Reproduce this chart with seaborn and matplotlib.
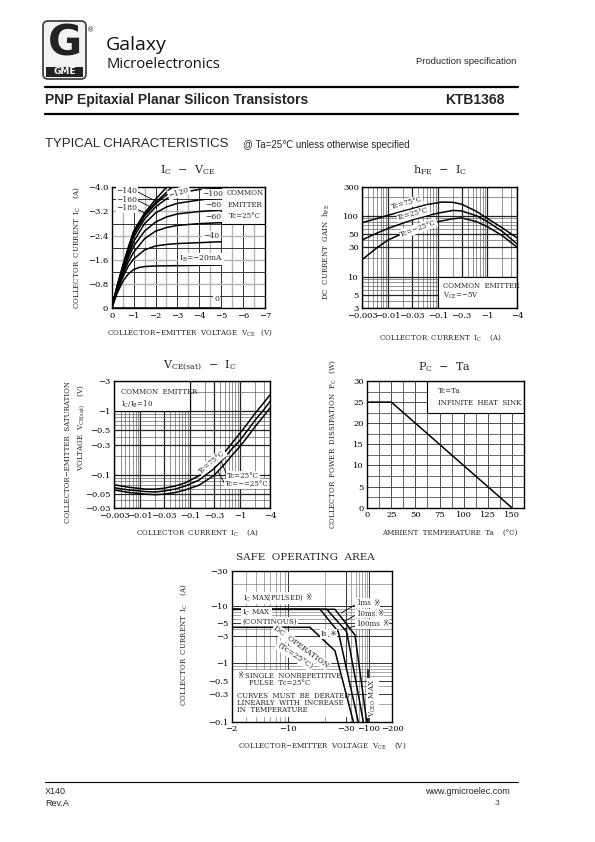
import numpy as np
import matplotlib
matplotlib.use("Agg")
import matplotlib.pyplot as plt
import seaborn as sns
from matplotlib.patches import Rectangle, FancyBboxPatch
from matplotlib.ticker import FixedLocator, NullFormatter, LogLocator

# ======================= DATA =======================
# --- I_C - V_CE  (magnitudes; drawn as negative values) ---
vce_ib0 = [0.0, 5.0]
ic_ib0 = [0.0, 0.0]
vce_ib20 = [0, 0.25, 0.5, 0.75, 1.0, 1.25, 1.5, 2.0, 3.0, 5.0]
ic_ib20 = [0, 0.50, 0.88, 1.13, 1.28, 1.35, 1.38, 1.40, 1.41, 1.43]
vce_ib40 = [0, 0.25, 0.5, 0.75, 1.0, 1.5, 2.0, 2.5, 3.0, 4.0, 5.0]
ic_ib40 = [0, 0.58, 1.02, 1.38, 1.63, 1.93, 2.06, 2.11, 2.14, 2.17, 2.20]
vce_ib60 = [0, 0.25, 0.5, 0.75, 1.0, 1.5, 2.0, 2.5, 3.0, 4.0, 5.0]
ic_ib60 = [0, 0.62, 1.12, 1.52, 1.85, 2.30, 2.55, 2.67, 2.74, 2.80, 2.83]
vce_ib80 = [0, 0.25, 0.5, 0.75, 1.0, 1.5, 2.0, 2.5, 3.0, 4.0, 5.0]
ic_ib80 = [0, 0.65, 1.20, 1.65, 2.05, 2.55, 2.85, 3.02, 3.12, 3.20, 3.25]
vce_ib100 = [0, 0.25, 0.5, 0.75, 1.0, 1.5, 2.0, 2.5, 3.0, 4.0, 5.0]
ic_ib100 = [0, 0.68, 1.25, 1.75, 2.20, 2.80, 3.15, 3.35, 3.47, 3.58, 3.64]
vce_ib120 = [0, 0.25, 0.5, 0.75, 1.0, 1.5, 2.0, 2.5, 3.0, 4.0, 5.0]
ic_ib120 = [0, 0.70, 1.30, 1.85, 2.35, 2.95, 3.35, 3.62, 3.80, 3.93, 3.97]
vce_ib140 = [0, 0.25, 0.5, 0.75, 1.0, 1.5, 2.0, 2.5, 3.2]
ic_ib140 = [0, 0.72, 1.35, 1.92, 2.45, 3.05, 3.45, 3.75, 4.0]
vce_ib160 = [0, 0.25, 0.5, 0.75, 1.0, 1.5, 2.0, 2.75]
ic_ib160 = [0, 0.73, 1.37, 1.95, 2.50, 3.10, 3.50, 4.0]
vce_ib180 = [0, 0.25, 0.5, 0.75, 1.0, 1.5, 2.0, 2.5]
ic_ib180 = [0, 0.75, 1.40, 2.00, 2.55, 3.15, 3.60, 4.0]
icv_xticks = [0, -1, -2, -3, -4, -5, -6, -7]
icv_xlabels = ["0", "−1", "−2", "−3", "−4", "−5", "−6", "−7"]
icv_yticks = [0, -0.8, -1.6, -2.4, -3.2, -4.0]
icv_ylabels = ["0", "−0.8", "−1.6", "−2.4", "−3.2", "−4.0"]

# --- h_FE - I_C ---
ic_h75 = [0.003, 0.006, 0.01, 0.03, 0.06, 0.12, 0.2, 0.3, 0.6, 1.0, 2.0, 4.0]
hfe_75 = [77, 90, 102, 130, 152, 168, 166, 155, 118, 90, 63, 43]
ic_h25 = [0.003, 0.006, 0.01, 0.03, 0.06, 0.1, 0.2, 0.3, 0.6, 1.0, 2.0, 4.0]
hfe_25 = [40, 52, 62, 85, 100, 110, 122, 120, 100, 80, 55, 34]
ic_hm25 = [0.003, 0.006, 0.01, 0.03, 0.06, 0.1, 0.2, 0.3, 0.6, 1.0, 2.0, 4.0]
hfe_m25 = [19, 30, 40, 60, 72, 80, 89, 92, 80, 66, 47, 30]
ic_log_ticks = [0.003, 0.01, 0.03, 0.1, 0.3, 1, 4]
ic_log_labels = ["−0.003", "−0.01", "−0.03", "−0.1", "−0.3", "−1", "−4"]
hfe_ticks = [3, 5, 10, 30, 50, 100, 300]
hfe_labels = ["3", "5", "10", "30", "50", "100", "300"]

# --- V_CE(sat) - I_C ---
ic_sat = [0.003, 0.006, 0.0124, 0.02, 0.03, 0.05, 0.079, 0.15, 0.3, 0.5, 0.7, 1.0, 1.5, 2.0, 3.0, 4.0]
vsat_75 = [0.070, 0.064, 0.060, 0.060, 0.062, 0.067, 0.075, 0.097, 0.15, 0.23, 0.32, 0.45, 0.68, 0.92, 1.35, 1.80]
vsat_25 = [0.063, 0.058, 0.055, 0.054, 0.056, 0.060, 0.067, 0.083, 0.125, 0.19, 0.26, 0.35, 0.53, 0.72, 1.05, 1.42]
vsat_m25 = [0.058, 0.053, 0.050, 0.049, 0.050, 0.053, 0.058, 0.069, 0.098, 0.15, 0.205, 0.28, 0.42, 0.57, 0.84, 1.12]
vsat_ticks = [0.03, 0.05, 0.1, 0.3, 0.5, 1, 3]
vsat_labels = ["−0.03", "−0.05", "−0.1", "−0.3", "−0.5", "−1", "−3"]

# --- P_C - Ta ---
ta_deg = [0, 25, 150]
pc_watt = [25, 25, 0]
ta_ticks = [0, 25, 50, 75, 100, 125, 150]
pc_ticks = [0, 5, 10, 15, 20, 25, 30]

# --- Safe operating area (magnitudes) ---
soa_v_dc = [2, 15.1, 24.3, 44.0]
soa_i_dc = [4.23, 4.23, 1.64, 0.1]
soa_v_100ms = [2, 18.3, 25.9, 57.0]
soa_i_100ms = [8.75, 8.75, 3.54, 0.1]
soa_v_10ms = [2, 20.8, 31.1, 74.2]
soa_i_10ms = [8.75, 8.75, 3.54, 0.1]
soa_v_1ms = [2, 24.3, 48.0, 88.7]
soa_i_1ms = [8.75, 8.75, 3.1, 0.1]
soa_v_vceo = [95, 95]
soa_i_vceo = [0.1, 0.75]
soa_xticks = [2, 10, 30, 100, 200]
soa_xlabels = ["−2", "−10", "−30", "−100", "−200"]
soa_yticks = [0.1, 0.3, 0.5, 1, 3, 5, 10, 30]
soa_ylabels = ["−0.1", "−0.3", "−0.5", "−1", "−3", "−5", "−10", "−30"]

# ======================= STYLE / LAYOUT =======================
SANS = ['Liberation Sans', 'DejaVu Sans', 'Noto Sans CJK JP']
SERIF = ['DejaVu Serif', 'DejaVu Sans', 'Noto Sans CJK JP']
SYM = ['DejaVu Sans', 'Noto Sans CJK JP']
LOGO = ['Open Sans', 'DejaVu Sans']

sns.set_theme(style='white')
plt.rcParams['font.family'] = SERIF
plt.rcParams['mathtext.fontset'] = 'dejavuserif'
plt.rcParams['axes.unicode_minus'] = True

W, H = 595, 842
fig = plt.figure(figsize=(W / 100, H / 100), dpi=100)
bg = fig.add_axes([0, 0, 1, 1])
bg.set_xlim(0, W)
bg.set_ylim(H, 0)
bg.axis('off')

LW = 1.1
ALS = 5.1  # axis-label font size
WB = dict(boxstyle='square,pad=0.12', fc='white', ec='none')


def add_ax(l, t, r, b):
    ax = fig.add_axes([l / W, 1 - b / H, (r - l) / W, (b - t) / H])
    ax.set_facecolor('white')
    for s in ax.spines.values():
        s.set_visible(True)
        s.set_color('black')
        s.set_linewidth(1.0)
    ax.tick_params(which='both', length=0, labelsize=6, pad=2.5, colors='black')
    ax.set_axisbelow(True)
    return ax


def ptxt(ax, x, y, s, **kw):
    kw.setdefault('fontsize', 5)
    kw.setdefault('va', 'center')
    kw.setdefault('zorder', 5)
    return ax.text(x, y, s, transform=bg.transData, **kw)


def mark_after(ax, t, sym='※', gap=1.0, size=5.5):
    """put a reference mark right after text artist t"""
    return ax.annotate(sym, xy=(1, 0.5), xycoords=t, xytext=(gap, 0), textcoords='offset points',
                       ha='left', va='center', fontsize=size, family=SYM, zorder=5,
                       bbox=dict(boxstyle='square,pad=0.05', fc='white', ec='none'))


def line(ax, xs, ys):
    sns.lineplot(x=np.asarray(xs, float), y=np.asarray(ys, float), ax=ax, color='black',
                 lw=LW, estimator=None, sort=False, legend=False, zorder=3)


def btxt(x, y, s, **kw):
    kw.setdefault('fontsize', ALS)
    kw.setdefault('va', 'center')
    return bg.text(x, y, s, **kw)


# ======================= HEADER =======================
bg.add_patch(FancyBboxPatch((43, 21), 43, 58, boxstyle='round,pad=0,rounding_size=5',
                            fc='#f2f2f2', ec='#444444', lw=1.3))
bg.text(64.5, 44, 'G', fontsize=30, fontweight='bold', family=SYM, ha='center', va='center', color='#222222')
bg.add_patch(Rectangle((46, 67), 37, 10, fc='#222222', ec='none'))
bg.text(64.5, 72, 'GME', fontsize=6.5, fontweight='bold', color='white', ha='center', va='center', family=SYM)
bg.text(91, 30, '®', fontsize=5, ha='center', va='center', family=SYM)
bg.text(106, 45, 'Galaxy', fontsize=14, family=LOGO, va='center', color='#111111')
bg.text(106, 64, 'Microelectronics', fontsize=10.6, family=LOGO, va='center', color='#111111')
bg.text(516, 61, 'Production specification', fontsize=6.8, family=SANS, ha='right', va='center')
bg.plot([45, 518], [87, 87], color='black', lw=1.6)
bg.text(45, 100, 'PNP Epitaxial Planar Silicon Transistors', fontsize=10, fontweight='bold',
        family=SANS, va='center')
bg.text(505, 100, 'KTB1368', fontsize=10, fontweight='bold', family=SANS, ha='right', va='center')
bg.plot([45, 518], [114, 114], color='black', lw=1.6)
bg.text(45, 144, 'TYPICAL CHARACTERISTICS', fontsize=9.5, family=SANS, va='center')
bg.text(243, 145, '@ Ta=25℃ unless otherwise specified', fontsize=7, family=SANS, va='center')

# ======================= FOOTER =======================
bg.plot([45, 518], [782, 782], color='black', lw=0.8)
bg.text(45, 792, 'X140', fontsize=6.5, family=SANS, va='center')
bg.text(45, 803, 'Rev.A', fontsize=6.5, family=SANS, va='center')
bg.text(510, 792, 'www.gmicroelec.com', fontsize=6.5, family=SANS, ha='right', va='center')
bg.text(497, 803, '3', fontsize=5.5, family=SERIF, ha='center', va='center')

# ======================= CHART 1 : IC - VCE =======================
ax1 = add_ax(111.7, 187.3, 265.0, 308.3)
icv_curves = [(vce_ib0, ic_ib0), (vce_ib20, ic_ib20), (vce_ib40, ic_ib40), (vce_ib60, ic_ib60),
              (vce_ib80, ic_ib80), (vce_ib100, ic_ib100), (vce_ib120, ic_ib120),
              (vce_ib140, ic_ib140), (vce_ib160, ic_ib160), (vce_ib180, ic_ib180)]
for v, i in icv_curves:
    line(ax1, -np.asarray(v, float), -np.asarray(i, float))
ax1.set_xlim(0, -7)
ax1.set_ylim(0, -4)
ax1.set_xticks(icv_xticks, labels=icv_xlabels)
ax1.set_yticks(icv_yticks, labels=icv_ylabels)
ax1.xaxis.set_minor_locator(FixedLocator(np.arange(-0.5, -7.0, -1.0)))
ax1.yaxis.set_minor_locator(FixedLocator(np.arange(-0.4, -4.0, -0.8)))
ax1.grid(True, which='major', axis='x', color='#333333', lw=0.7)
ax1.grid(True, which='minor', axis='x', color='#b5b5b5', lw=1.0)
ax1.grid(True, which='major', axis='y', color='#b5b5b5', lw=1.0)
ax1.grid(True, which='minor', axis='y', color='#333333', lw=0.7)
ax1.set_xlabel('')
ax1.set_ylabel('')
ax1.add_patch(Rectangle((-7, -4), 2, 1.2, fc='white', ec='black', lw=0.8, zorder=1.5))
ptxt(ax1, 245, 193.3, 'COMMON', ha='center')
ptxt(ax1, 245, 205, 'EMITTER', ha='center')
ptxt(ax1, 245, 215.7, 'Tc=25°C', ha='center')
for lab, yy, vv, cv, ci in [('−140', 191, 2.1, vce_ib140, ic_ib140),
                             ('−160', 199.5, 1.8, vce_ib160, ic_ib160),
                             ('−180', 208.5, 1.5, vce_ib180, ic_ib180)]:
    ptxt(ax1, 127, yy, lab, ha='center', fontsize=5.5, bbox=WB)
    ax1.annotate('', xy=(-vv, -np.interp(vv, cv, ci)), xycoords='data', xytext=(136, yy),
                 textcoords=bg.transData,
                 arrowprops=dict(arrowstyle='-', lw=0.6, color='black', shrinkA=0, shrinkB=0))
ptxt(ax1, 179, 192.5, '−120', ha='center', fontsize=5.5, rotation=18, bbox=WB)
ptxt(ax1, 213, 194, '−100', ha='center', fontsize=5.5, bbox=WB)
ptxt(ax1, 213, 205, '−80', ha='center', fontsize=5.5, bbox=WB)
ptxt(ax1, 213, 217.3, '−60', ha='center', fontsize=5.5, bbox=WB)
ptxt(ax1, 211, 236, '−40', ha='center', fontsize=5.5, bbox=WB)
ptxt(ax1, 201, 259.3, r'I$_\mathregular{B}$=−20mA', ha='center', fontsize=5.5, bbox=WB)
ptxt(ax1, 216.7, 299.3, '0', ha='center', fontsize=5.5, bbox=WB)
btxt(188, 170, r'I$_\mathregular{C}$  −  V$_\mathregular{CE}$', fontsize=8, ha='center')
btxt(77, 248, r'COLLECTOR  CURRENT  I$_\mathregular{C}$    (A)', ha='center', rotation=90)
btxt(190, 333, r'COLLECTOR−EMITTER  VOLTAGE  V$_\mathregular{CE}$   (V)', ha='center')

# ======================= CHART 2 : hFE - IC =======================
ax2 = add_ax(362.3, 186.7, 517.3, 308.3)
for x, y in [(ic_h75, hfe_75), (ic_h25, hfe_25), (ic_hm25, hfe_m25)]:
    line(ax2, x, y)
ax2.set_xscale('log')
ax2.set_yscale('log')
ax2.set_xlim(0.003, 4)
ax2.set_ylim(3, 300)
ax2.set_xticks(ic_log_ticks, labels=ic_log_labels)
ax2.set_yticks(hfe_ticks, labels=hfe_labels)
for a in (ax2.xaxis, ax2.yaxis):
    a.set_minor_locator(LogLocator(base=10, subs=np.arange(2, 10)))
    a.set_minor_formatter(NullFormatter())
ax2.grid(True, which='major', color='#222222', lw=0.9)
ax2.grid(True, which='minor', color='#555555', lw=0.45)
ax2.set_xlabel('')
ax2.set_ylabel('')
ax2.add_patch(Rectangle((0.1, 3), 3.9, 7, fc='white', ec='black', lw=0.8, zorder=1.5))
ptxt(ax2, 406.7, 203.3, 'Tc=75°C', ha='center', fontsize=5, rotation=15, bbox=WB)
ptxt(ax2, 413.3, 214, 'Tc=25°C', ha='center', fontsize=5, rotation=15, bbox=WB)
ptxt(ax2, 418.3, 228.3, 'Tc=−25°C', ha='center', fontsize=5, rotation=20, bbox=WB)
ptxt(ax2, 443, 285.7, 'COMMON  EMITTER', ha='left')
ptxt(ax2, 443, 295.5, r'V$_\mathregular{CE}$=−5V', ha='left')
btxt(440, 170, r'h$_\mathregular{FE}$  −  I$_\mathregular{C}$', fontsize=8, ha='center')
btxt(326, 252, r'DC  CURRENT  GAIN  h$_\mathregular{FE}$', ha='center', rotation=90)
btxt(440, 338, r'COLLECTOR  CURRENT  I$_\mathregular{C}$    (A)', ha='center')

# ======================= CHART 3 : VCE(sat) - IC =======================
ax3 = add_ax(114.3, 380.7, 270.0, 508.3)
for y in (vsat_75, vsat_25, vsat_m25):
    line(ax3, ic_sat, y)
ax3.set_xscale('log')
ax3.set_yscale('log')
ax3.set_xlim(0.003, 4)
ax3.set_ylim(0.03, 3)
ax3.set_xticks(ic_log_ticks, labels=ic_log_labels)
ax3.set_yticks(vsat_ticks, labels=vsat_labels)
for a in (ax3.xaxis, ax3.yaxis):
    a.set_minor_locator(LogLocator(base=10, subs=np.arange(2, 10)))
    a.set_minor_formatter(NullFormatter())
ax3.grid(True, which='major', color='#222222', lw=0.9)
ax3.grid(True, which='minor', color='#555555', lw=0.45)
ax3.set_xlabel('')
ax3.set_ylabel('')
ax3.add_patch(Rectangle((0.003, 1), 0.097, 2, fc='white', ec='black', lw=0.8, zorder=1.5))
ptxt(ax3, 121, 392, 'COMMON  EMITTER', ha='left')
ptxt(ax3, 121, 404, r'I$_\mathregular{C}$/I$_\mathregular{B}$=10', ha='left')
ptxt(ax3, 212, 462, 'Tc=75°C', ha='center', rotation=40, bbox=WB)
ptxt(ax3, 227, 475.7, 'Tc=25°C', ha='left', bbox=WB)
ptxt(ax3, 225, 484.3, 'Tc=−=25°C', ha='left', bbox=WB)


def logi(x, xs, ys):
    return 10 ** np.interp(np.log10(x), np.log10(xs), np.log10(ys))


ax3.annotate('', xy=(0.42, logi(0.42, ic_sat, vsat_25)), xytext=(227, 475.7), textcoords=bg.transData,
             arrowprops=dict(arrowstyle='-', lw=0.6, color='black', shrinkA=0, shrinkB=0))
ax3.annotate('', xy=(0.36, logi(0.36, ic_sat, vsat_m25)), xytext=(225, 484.3), textcoords=bg.transData,
             arrowprops=dict(arrowstyle='-', lw=0.6, color='black', shrinkA=0, shrinkB=0))
btxt(200, 366, r'V$_\mathregular{CE(sat)}$  −  I$_\mathregular{C}$', fontsize=8, ha='center')
btxt(68, 452, 'COLLECTOR−EMITTER  SATURATION', ha='center', rotation=90)
btxt(81, 428, r'VOLTAGE  V$_\mathregular{CE(sat)}$    (V)', ha='center', rotation=90)
btxt(197, 533, r'COLLECTOR  CURRENT  I$_\mathregular{C}$    (A)', ha='center')

# ======================= CHART 4 : PC - Ta =======================
ax4 = add_ax(367.3, 381.0, 523.8, 507.7)
line(ax4, ta_deg, pc_watt)
ax4.set_xlim(0, 162.5)
ax4.set_ylim(0, 30)
ax4.set_xticks(ta_ticks, labels=[str(t) for t in ta_ticks])
ax4.set_yticks(pc_ticks, labels=[str(t) for t in pc_ticks])
ax4.xaxis.set_minor_locator(FixedLocator(np.arange(12.5, 162.5, 25)))
ax4.yaxis.set_minor_locator(FixedLocator(np.arange(2.5, 30, 5)))
ax4.grid(True, which='major', color='#333333', lw=0.6)
ax4.grid(True, which='minor', color='#555555', lw=0.6)
ax4.set_xlabel('')
ax4.set_ylabel('')
ax4.add_patch(Rectangle((62.5, 22.5), 100, 7.5, fc='white', ec='black', lw=0.8, zorder=1.5))
ptxt(ax4, 438, 391, 'Tc=Ta', ha='left')
ptxt(ax4, 438, 403.3, 'INFINITE  HEAT  SINK', ha='left')
btxt(445, 367, r'P$_\mathregular{C}$  −  Ta', fontsize=8, ha='center')
btxt(333, 444, r'COLLECTOR  POWER  DISSIPATION  P$_\mathregular{C}$   (W)', ha='center', rotation=90)
btxt(450, 533, 'AMBIENT  TEMPERATURE  Ta    (°C)', ha='center')


# ======================= CHART 5 : SOA =======================
def make_scale(vals, pos):
    lv = np.log10(np.asarray(vals, float))
    pp = np.asarray(pos, float)

    def pw(x, xp, fp):
        x = np.asarray(x, float)
        y = np.interp(x, xp, fp)
        s0 = (fp[1] - fp[0]) / (xp[1] - xp[0])
        s1 = (fp[-1] - fp[-2]) / (xp[-1] - xp[-2])
        y = np.where(x < xp[0], fp[0] + (x - xp[0]) * s0, y)
        y = np.where(x > xp[-1], fp[-1] + (x - xp[-1]) * s1, y)
        return y

    def fwd(v):
        v = np.asarray(v, float)
        with np.errstate(divide='ignore', invalid='ignore'):
            l = np.log10(np.where(v > 0, v, 1e-300))
        return pw(l, lv, pp)

    def inv(p):
        return 10 ** pw(p, pp, lv)

    return fwd, inv


ax5 = add_ax(231.5, 571.0, 392.0, 721.7)
for x, y in [(soa_v_dc, soa_i_dc), (soa_v_100ms, soa_i_100ms), (soa_v_10ms, soa_i_10ms),
             (soa_v_1ms, soa_i_1ms), (soa_v_vceo, soa_i_vceo)]:
    line(ax5, x, y)
ax5.set_xscale('function', functions=make_scale([2, 10, 30, 100, 200], [0, 56.8, 114.5, 137.5, 160.5]))
ax5.set_yscale('function', functions=make_scale([0.1, 1, 10, 30], [0, 58.7, 115.7, 150.7]))
ax5.set_xlim(2, 200)
ax5.set_ylim(0.1, 30)
ax5.xaxis.set_major_locator(FixedLocator(soa_xticks))
ax5.set_xticklabels(soa_xlabels)
ax5.yaxis.set_major_locator(FixedLocator(soa_yticks))
ax5.set_yticklabels(soa_ylabels)
ax5.xaxis.set_minor_locator(FixedLocator([3, 4, 5, 6, 7, 8, 9, 20, 40, 50, 60, 70, 80, 90]))
ax5.yaxis.set_minor_locator(FixedLocator([0.2, 0.4, 0.6, 0.7, 0.8, 0.9, 2, 4, 6, 7, 8, 9, 20]))
ax5.xaxis.set_minor_formatter(NullFormatter())
ax5.yaxis.set_minor_formatter(NullFormatter())
ax5.grid(True, which='major', color='#333333', lw=0.7)
ax5.grid(True, which='minor', color='#777777', lw=0.45)
ax5.set_xlabel('')
ax5.set_ylabel('')
ax5.add_patch(Rectangle((2, 0.12), 31, 0.64, fc='white', ec='none', zorder=1.5))
t = ptxt(ax5, 243, 598, r'I$_\mathregular{C}$ MAX(PULSED)', ha='left', fontsize=4.8, bbox=WB)
mark_after(ax5, t, gap=1.5)
ptxt(ax5, 242, 613, r'I$_\mathregular{C}$ MAX', ha='left', fontsize=5.2, bbox=WB)
ptxt(ax5, 242, 621.5, '(CONTINOUS)', ha='left', fontsize=5.2, bbox=WB)
ptxt(ax5, 301, 647, 'DC  OPERATION', ha='center', fontsize=5.6, rotation=-36, bbox=WB)
ptxt(ax5, 295, 656, '(Tc=25°C)', ha='center', fontsize=5.6, rotation=-34, bbox=WB)
t = ptxt(ax5, 321, 634, 'Is', ha='left', fontsize=5.2, bbox=WB)
mark_after(ax5, t, sym='✳', gap=1.5, size=6)
for lab, yy, tx, ty in [('1ms', 603, 341, 613), ('10ms', 613.5, 345, 621), ('100ms', 624, 344, 629)]:
    t = ptxt(ax5, 356, yy, lab, ha='left', fontsize=5.0, bbox=WB)
    mark_after(ax5, t, gap=1.5)
    ax5.plot([355, tx], [yy + 2, ty], color='black', lw=0.6, transform=bg.transData, zorder=4)
t = ptxt(ax5, 237, 676, '※', ha='left', fontsize=5.5, family=SYM)
ptxt(ax5, 245, 676, 'SINGLE  NONREPETITIVE', ha='left', fontsize=5)
ptxt(ax5, 249, 683, 'PULSE  Tc=25°C', ha='left', fontsize=5)
ptxt(ax5, 237, 696, 'CURVES  MUST  BE  DERATED', ha='left', fontsize=5)
ptxt(ax5, 237, 703, 'LINEARLY  WITH  INCREASE', ha='left', fontsize=5)
ptxt(ax5, 237, 710, 'IN  TEMPERATURE', ha='left', fontsize=5)
ptxt(ax5, 373, 698, r'V$_\mathregular{CEO}$ MAX', ha='center', fontsize=5, rotation=90, bbox=WB)
btxt(305, 557, 'SAFE  OPERATING  AREA', fontsize=7.5, ha='center')
btxt(184, 645, r'COLLECTOR  CURRENT  I$_\mathregular{C}$    (A)', ha='center', rotation=90)
btxt(322, 746, r'COLLECTOR−EMITTER  VOLTAGE  V$_\mathregular{CE}$    (V)', ha='center')

fig.savefig('out.png', dpi=100)
